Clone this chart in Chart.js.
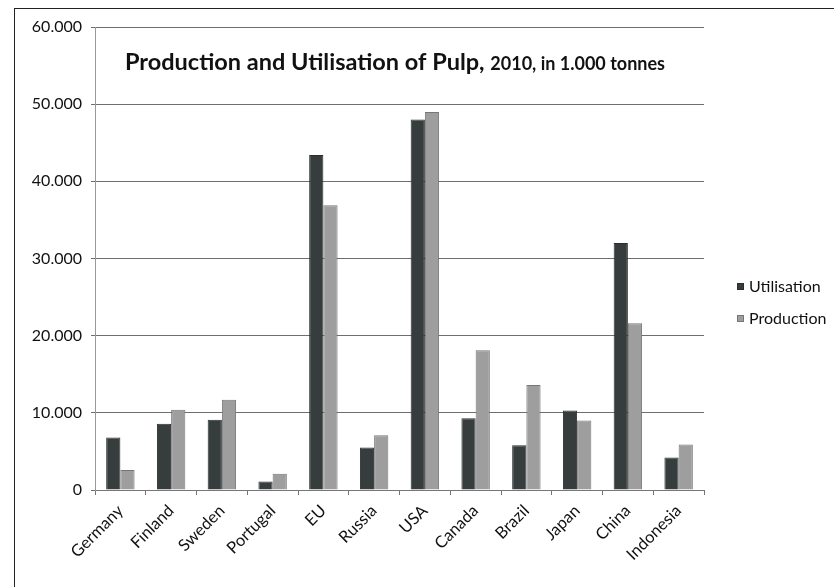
<!DOCTYPE html>
<html>
<head>
<meta charset="utf-8">
<script src="https://cdn.jsdelivr.net/npm/chart.js@4.4.1/dist/chart.umd.min.js"></script>
<style>
  html, body { margin: 0; padding: 0; background: #fff; }
  #wrap { position: relative; width: 834px; height: 587px; }
  #frame {
    position: absolute; left: 14px; top: 8px; right: 0; bottom: 0;
    border-left: 1.5px solid #222; border-top: 1.5px solid #222;
  }
  canvas { position: absolute; left: 0; top: 0; }
</style>
</head>
<body>
<div id="wrap">
  <div id="frame"></div>
  <canvas id="pulpChart" width="834" height="587"></canvas>
</div>
<script>
// Pulp, 2010, in 1.000 tonnes
const countries = ['Germany', 'Finland', 'Sweden', 'Portugal', 'EU', 'Russia', 'USA', 'Canada', 'Brazil', 'Japan', 'China', 'Indonesia'];
const utilisation = [6800, 8600, 9100, 1100, 43400, 5500, 48000, 9300, 5800, 10300, 32000, 4200];
const production = [2600, 10400, 11700, 2100, 36900, 7100, 49000, 18100, 13600, 9000, 21600, 5900];
const yTicks = [0, 10000, 20000, 30000, 40000, 50000, 60000];

const FONT = 'Lato, "Open Sans", sans-serif';

// title with two font sizes + legend on the right
const extras = {
  id: 'extras',
  afterDraw(chart) {
    const c = chart.ctx;
    c.save();
    c.fillStyle = '#111';
    c.textBaseline = 'alphabetic';
    c.font = 'bold 23.5px ' + FONT;
    const part1 = 'Production and Utilisation of Pulp,';
    c.fillText(part1, 125, 70);
    const w = c.measureText(part1 + ' ').width;
    c.font = 'bold 18px ' + FONT;
    c.fillText('2010, in 1.000 tonnes', 125 + w, 70);

    // legend
    c.font = '16px ' + FONT;
    c.textBaseline = 'middle';
    chart.data.datasets.forEach((ds, i) => {
      const y = 287 + i * 32;
      c.fillStyle = ds.backgroundColor;
      c.fillRect(737, y - 4, 7, 7);
      c.strokeStyle = ds.borderColor;
      c.lineWidth = 1;
      c.strokeRect(737.5, y - 3.5, 6, 6);
      c.fillStyle = '#111';
      c.fillText(ds.label, 749, y);
    });
    c.restore();
  }
};

new Chart(document.getElementById('pulpChart'), {
  type: 'bar',
  data: {
    labels: countries,
    datasets: [
      {
        label: 'Utilisation',
        data: utilisation,
        backgroundColor: '#373d3d',
        borderColor: '#2a2e2e',
        borderWidth: 1
      },
      {
        label: 'Production',
        data: production,
        backgroundColor: '#9e9e9e',
        borderColor: '#767676',
        borderWidth: 1
      }
    ]
  },
  options: {
    responsive: false,
    animation: false,
    layout: { padding: { left: 20, right: 130, top: 27, bottom: 0 } },
    plugins: {
      legend: { display: false },
      title: { display: false },
      tooltip: { enabled: false }
    },
    datasets: {
      bar: { categoryPercentage: 0.56, barPercentage: 1.0 }
    },
    scales: {
      x: {
        offset: true,
        grid: {
          offset: true,
          drawOnChartArea: false,
          tickLength: 5,
          color: '#777'
        },
        border: { color: '#777', width: 1 },
        ticks: {
          autoSkip: false,
          minRotation: 45,
          maxRotation: 45,
          padding: 6,
          color: '#111',
          font: { family: FONT, size: 16.5 }
        },
        afterFit(scale) { scale.height = 97; }
      },
      y: {
        min: 0,
        max: 60000,
        afterBuildTicks(scale) { scale.ticks = yTicks.map(v => ({ value: v })); },
        grid: { color: '#6e6e6e', lineWidth: 1, tickLength: 4 },
        border: { color: '#999', width: 1 },
        ticks: {
          padding: 9,
          color: '#111',
          font: { family: FONT, size: 16 },
          callback: v => v.toLocaleString('de-DE')
        },
        afterFit(scale) { scale.width = 75; }
      }
    }
  },
  plugins: [extras]
});
</script>
</body>
</html>
